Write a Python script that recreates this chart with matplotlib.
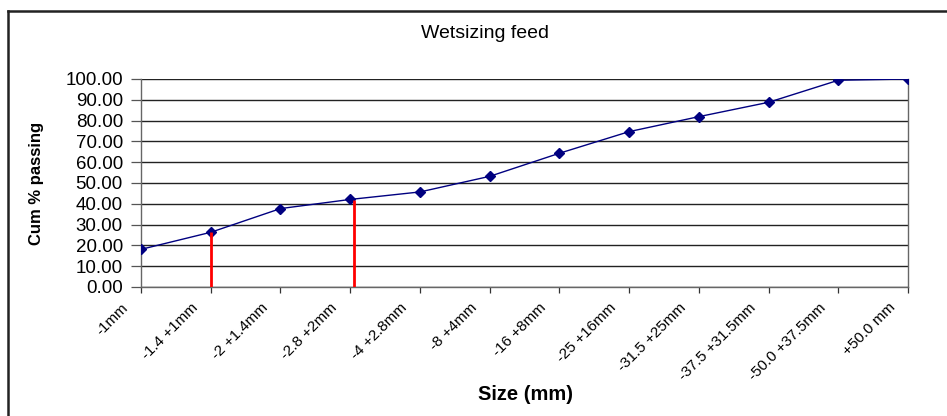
import matplotlib
matplotlib.use('Agg')
import matplotlib.pyplot as plt
from matplotlib.lines import Line2D
from matplotlib.transforms import ScaledTranslation
import numpy as np

plt.rcParams['font.family'] = ['Liberation Sans', 'DejaVu Sans']

# size fractions and cumulative % passing
sizes = ['-1mm', '-1.4 +1mm', '-2 +1.4mm', '-2.8 +2mm', '-4 +2.8mm', '-8 +4mm',
         '-16 +8mm', '-25 +16mm', '-31.5 +25mm', '-37.5 +31.5mm',
         '-50.0 +37.5mm', '+50.0 mm']
cum_passing = [18.1, 26.3, 37.7, 42.1, 45.7, 53.2, 64.3, 74.7, 81.9, 88.8, 99.4, 100.0]

# red marker lines (position along the category axis, height)
cut_pos = [1.0, 3.06]
cut_val = [26.3, 42.0]

fig = plt.figure(figsize=(9.47, 4.16), dpi=100)
ax = fig.add_axes([0.1489, 0.3101, 0.81, 0.5])

x = np.arange(len(sizes))
ax.set_axisbelow(True)
ax.yaxis.grid(True, color='#222222', lw=1)
ax.plot(x, cum_passing, color='#000080', lw=1, marker='D', ms=5.5, zorder=3)
ax.vlines(cut_pos, 0, cut_val, color='#ff0000', lw=2, zorder=4)

ax.set_xlim(0, len(sizes) - 1)
ax.set_ylim(0, 100)
ax.set_yticks(np.arange(0, 101, 10))
ax.set_yticklabels([f'{v:.2f}' for v in np.arange(0, 101, 10)], fontsize=13.5)
ax.set_xticks(x)
ax.tick_params(axis='y', length=7, width=0.9, color='#555555', pad=6)
ax.tick_params(axis='x', length=4, width=0.9, color='#333333', pad=2)
ax.set_xticklabels(sizes, rotation=45, ha='right', va='top',
                   rotation_mode='anchor', fontsize=11)
# pull the slanted labels back a little from their ticks
shift = ScaledTranslation(-0.20, -0.05, fig.dpi_scale_trans)
for lab in ax.get_xticklabels():
    lab.set_transform(lab.get_transform() + shift)

for side in ['left', 'right', 'bottom']:
    ax.spines[side].set_color('#666666')
    ax.spines[side].set_linewidth(1)
ax.spines['top'].set_visible(False)

fig.text(485 / 947, 1 - 33 / 416, 'Wetsizing feed', fontsize=14,
         ha='center', va='center')
ax.set_ylabel('Cum % passing', fontsize=12, fontweight='bold')
ax.yaxis.label.set_va('center')
ax.yaxis.set_label_coords(-0.1356, 0.5)
ax.set_xlabel('Size (mm)', fontsize=14.5, fontweight='bold')
ax.xaxis.label.set_va('center')
ax.xaxis.set_label_coords(0.5006, -0.519)

# chart frame
fig.add_artist(Line2D([8 / 947, 8 / 947], [1 - 11 / 416, 1 / 416],
                      transform=fig.transFigure, color='#222222', lw=1.8))
fig.add_artist(Line2D([8 / 947, 1], [1 - 11 / 416, 1 - 11 / 416],
                      transform=fig.transFigure, color='#222222', lw=1.8))

fig.savefig('out.png', dpi=100)
